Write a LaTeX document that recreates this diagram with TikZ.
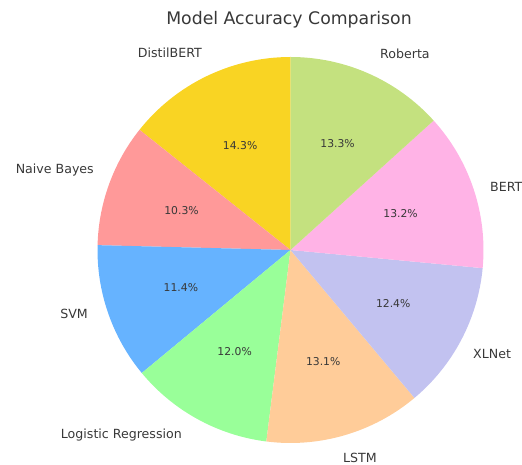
\documentclass[tikz,border=0pt]{standalone}
\usepackage{fontspec}
\setmainfont{DejaVu Sans}
\usepackage{xcolor}
\usepackage{tikz}
\usetikzlibrary{calc}

\definecolor{distilc}{HTML}{F9D423}
\definecolor{bayesc}{HTML}{FF9999}
\definecolor{svmc}{HTML}{66B3FF}
\definecolor{logregc}{HTML}{99FF99}
\definecolor{lstmc}{HTML}{FFCC99}
\definecolor{xlnetc}{HTML}{C2C2F0}
\definecolor{bertc}{HTML}{FFB3E6}
\definecolor{robertac}{HTML}{C4E17F}

\begin{document}
\begin{tikzpicture}[
		x=1pt,
		y=1pt,
		line join=round,
		every node/.style={inner sep=0pt,text=black!78,font=\fontsize{12.6}{15}\selectfont},
		pct/.style={font=\fontsize{10.8}{13}\selectfont},
		heading/.style={font=\fontsize{17.3}{20}\selectfont}
		]
		\useasboundingbox (0,0) rectangle (522,465);
		\coordinate (ctr) at (290.5,215);
		
		% wedges, counterclockwise from the top
		\foreach \a/\b/\c in {90/141.48/distilc,141.48/178.56/bayesc,178.56/219.6/svmc,
			219.6/262.8/logregc,262.8/309.96/lstmc,309.96/354.6/xlnetc,
			354.6/402.12/bertc,402.12/450/robertac}
		\fill[\c] (ctr) -- ++(\a:193) arc[start angle=\a,end angle=\b,radius=193] -- cycle;
		
		% shares, at 0.6 of the radius
		\foreach \m/\v/\n in {115.74/14.3/distil,160.02/10.3/bayes,199.08/11.4/svm,
			241.2/12.0/logreg,286.38/13.1/lstm,332.28/12.4/xlnet,
			18.36/13.2/bert,66.06/13.3/roberta}
		\node[pct] (pct-\n) at ($(ctr)+(\m:116)$) {\v\%};
		
		% model names
		\node[anchor=east] (lbl-distil) at (202,412) {DistilBERT};
		\node[anchor=east] (lbl-bayes) at (94,295) {Naive Bayes};
		\node[anchor=east] (lbl-svm) at (88,151) {SVM};
		\node[anchor=east] (lbl-logreg) at (182,30) {Logistic Regression};
		\node[anchor=west] (lbl-lstm) at (343,7) {LSTM};
		\node[anchor=west] (lbl-xlnet) at (473,111) {XLNet};
		\node[anchor=west] (lbl-bert) at (490,278) {BERT};
		\node[anchor=west] (lbl-roberta) at (380,411) {Roberta};
		
		\node[heading] (title) at (289,445) {Model Accuracy Comparison};
\end{tikzpicture}
\end{document}
